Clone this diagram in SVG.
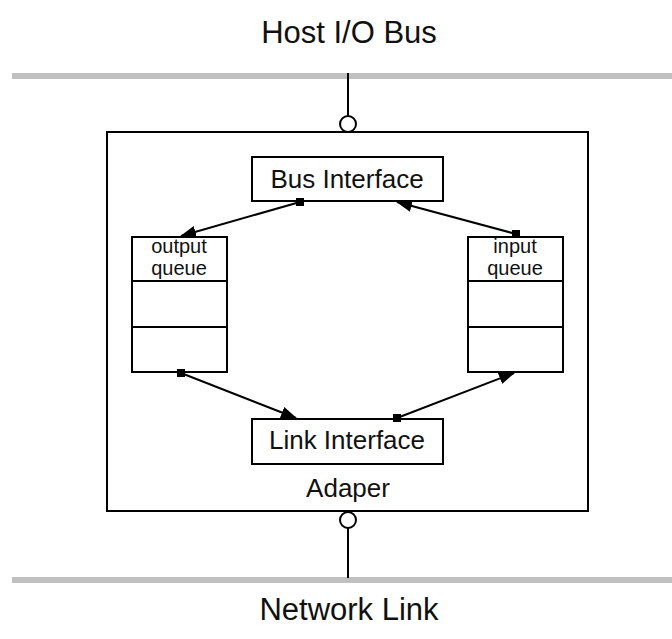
<svg xmlns="http://www.w3.org/2000/svg" width="672" height="639" viewBox="0 0 672 639">
  <style>
    .bus { fill: #c0c0c0; }
    .box { fill: #ffffff; stroke: #000000; stroke-width: 2; }
    .wire { fill: none; stroke: #000000; stroke-width: 2; }
    .port { fill: #ffffff; stroke: #000000; stroke-width: 2; }
    .lbl { font-family: "Liberation Sans", Arial, sans-serif; fill: #111111; text-anchor: middle; }
    .title { font-size: 31px; }
    .name { font-size: 26px; }
    .small { font-size: 20px; }
    .link { fill: none; stroke: #000000; stroke-width: 2; marker-start: url(#dot); marker-end: url(#head); }
  </style>
  <defs>
    <marker id="head" viewBox="0 0 16 12" refX="15" refY="6" markerWidth="16" markerHeight="12" markerUnits="userSpaceOnUse" orient="auto">
      <path d="M0,0 L16,6 L0,12 Z" fill="#000000"/>
    </marker>
    <marker id="dot" viewBox="0 0 8 8" refX="4" refY="4" markerWidth="8" markerHeight="8" markerUnits="userSpaceOnUse" orient="0">
      <rect x="0" y="0" width="8" height="8" fill="#000000"/>
    </marker>
  </defs>

  <!-- host side bus -->
  <g id="host-bus">
    <rect class="bus" x="12" y="73" width="660" height="6"/>
    <text class="lbl title" x="349" y="43">Host I/O Bus</text>
  </g>

  <!-- network side link -->
  <g id="network-link">
    <rect class="bus" x="12" y="577" width="660" height="6"/>
    <text class="lbl title" x="349" y="620">Network Link</text>
  </g>

  <!-- adapter enclosure -->
  <g id="adapter">
    <rect class="box" x="107" y="132" width="481" height="379"/>
    <text class="lbl name" x="348" y="497">Adaper</text>
  </g>

  <g id="bus-interface">
    <rect class="box" x="252" y="157" width="191" height="44"/>
    <text class="lbl name" x="347" y="188">Bus Interface</text>
  </g>

  <g id="link-interface">
    <rect class="box" x="252" y="419" width="191" height="45"/>
    <text class="lbl name" x="347" y="449">Link Interface</text>
  </g>

  <g id="output-queue">
    <rect class="box" x="132" y="237" width="95" height="135"/>
    <line class="wire" x1="132" y1="281" x2="227" y2="281"/>
    <line class="wire" x1="132" y1="327" x2="227" y2="327"/>
    <text class="lbl small" x="179" y="253">output</text>
    <text class="lbl small" x="179" y="275">queue</text>
  </g>

  <g id="input-queue">
    <rect class="box" x="468" y="237" width="95" height="135"/>
    <line class="wire" x1="468" y1="281" x2="563" y2="281"/>
    <line class="wire" x1="468" y1="327" x2="563" y2="327"/>
    <text class="lbl small" x="515" y="253">input</text>
    <text class="lbl small" x="515" y="275">queue</text>
  </g>

  <!-- connectors -->
  <g id="connectors">
    <line class="wire" x1="348" y1="73" x2="348" y2="116"/>
    <circle class="port" cx="348" cy="124" r="8"/>
    <line class="wire" x1="348" y1="528" x2="348" y2="578"/>
    <circle class="port" cx="348" cy="520" r="8"/>

    <line class="link" x1="300" y1="202" x2="181" y2="236"/>
    <line class="link" x1="516" y1="234" x2="397" y2="202"/>
    <line class="link" x1="181" y1="373" x2="296" y2="418"/>
    <line class="link" x1="397" y1="418" x2="514" y2="373"/>
  </g>
</svg>
